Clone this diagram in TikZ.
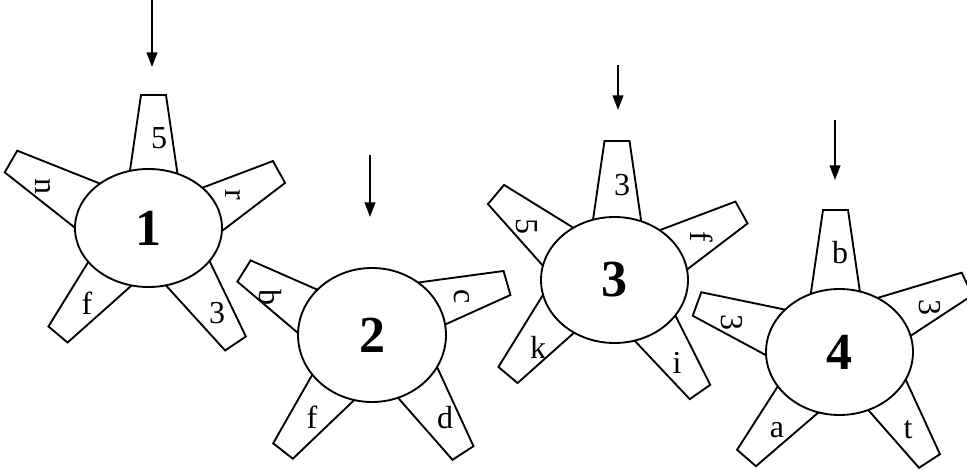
\documentclass[tikz,border=0pt]{standalone}
\usepackage{fontspec}
\setmainfont{Liberation Serif}
\usetikzlibrary{arrows.meta, calc, shapes.geometric}

% petal: name, tip, axis angle, label position, label rotation, label
\newcommand{\petal}[6]{%
  \draw[petalline] ($(#2)+(#3+90:12.5)$) -- ($(#2)+(#3-90:12.5)$)
    -- ($(#2)+(#3+180:120)+(#3-90:30)$) -- ($(#2)+(#3+180:120)+(#3+90:30)$) -- cycle;
  \node[petaltext, rotate=#5] (#1) at (#4) {#6};
}

\begin{document}
\begin{tikzpicture}[x=0.75pt, y=0.75pt,
    petalline/.style={line width=1.4pt, line join=miter, fill=white},
    petaltext/.style={inner sep=0pt, font=\fontsize{24}{27}\selectfont},
    hub/.style={ellipse, draw, fill=white, line width=1.4pt, inner sep=0pt,
      font=\fontsize{39}{42}\selectfont\bfseries},
    drop/.style={line width=1.5pt, -{Triangle[length=11pt, width=8pt]}}]
    \useasboundingbox (0,0) rectangle (967,-470);

    % Flower 1
    \petal{p1a}{153.5,-95}{90}{159,-138}{0}{5}
    \petal{p1b}{11,-161.5}{150}{43,-187}{-90}{n}
    \petal{p1c}{279,-172}{29}{233,-195}{-90}{r}
    \petal{p1d}{58,-334.5}{230}{87,-303}{0}{f}
    \petal{p1e}{235.5,-343.5}{304}{217,-313}{0}{3}
    \node[hub, minimum width=110.25pt, minimum height=88.5pt] (f1) at (148.5,-228) {1};

    % Flower 2
    \petal{p2a}{244,-271}{148}{270,-298}{-90}{b}
    \petal{p2b}{507,-283}{16}{462,-297}{-90}{c}
    \petal{p2c}{283,-451}{232}{312,-417}{0}{f}
    \petal{p2d}{463,-453}{303}{445,-418}{0}{d}
    \node[hub, minimum width=111pt, minimum height=100.5pt] (f2) at (372,-335) {2};

    % Flower 3
    \petal{p3a}{617,-141}{90}{622,-185}{0}{3}
    \petal{p3b}{496,-194.5}{140}{527,-227}{-90}{5}
    \petal{p3c}{741.5,-212.5}{29}{702,-237}{-90}{f}
    \petal{p3d}{508,-375}{230}{538,-347}{0}{k}
    \petal{p3e}{700,-392}{305}{677,-363}{0}{i}
    \node[hub, minimum width=110.25pt, minimum height=94.5pt] (f3) at (614.5,-280) {3};

    % Flower 4
    \petal{p4a}{835.5,-210}{90}{840,-253}{0}{b}
    \petal{p4b}{697,-304}{160}{732,-323}{-90}{3}
    \petal{p4c}{967,-284}{25}{930,-308}{-90}{3}
    \petal{p4d}{746.5,-458}{229}{777,-430}{0}{a}
    \petal{p4e}{929.5,-461}{303}{908,-430}{0}{t}
    \node[hub, minimum width=110.25pt, minimum height=94.5pt] (f4) at (839.5,-352) {4};

    % Arrows
    \coordinate (a1) at (152,0);    \coordinate (e1) at (152,-67);
    \coordinate (a2) at (370,-155); \coordinate (e2) at (370,-217);
    \coordinate (a3) at (618,-65);  \coordinate (e3) at (618,-110);
    \coordinate (a4) at (835,-120); \coordinate (e4) at (835,-180);
    \foreach \i in {1,...,4}
        \draw[drop] (a\i) -- (e\i);
\end{tikzpicture}
\end{document}
